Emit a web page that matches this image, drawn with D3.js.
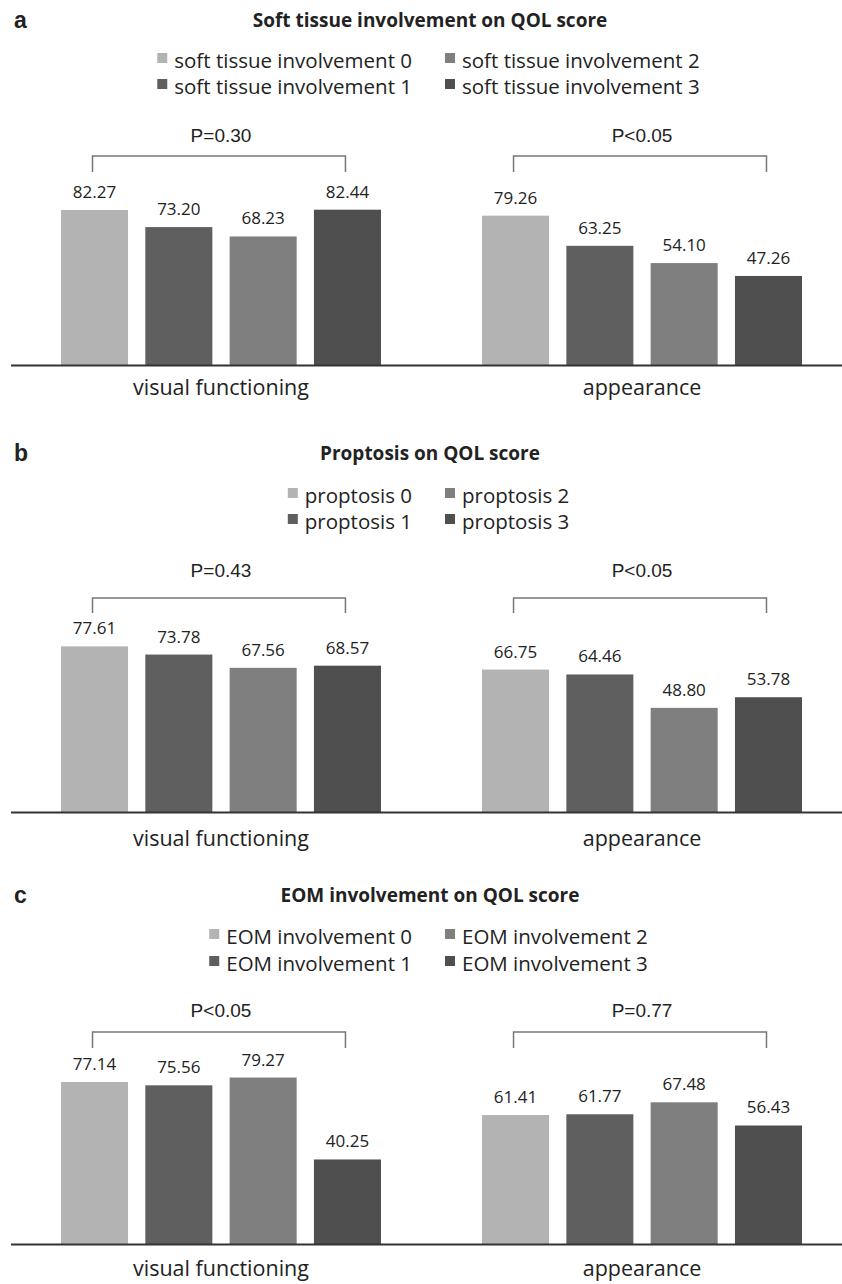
<!DOCTYPE html>
<html>
<head>
<meta charset="utf-8">
<script src="https://cdn.jsdelivr.net/npm/d3@7"></script>
<style>
  body { margin: 0; background: #fff; }
  text { fill: #222; }
</style>
</head>
<body>
<div id="chart"></div>
<script>
// groups on the x axis
const groups = ["visual functioning", "appearance"];

// panel a - soft tissue involvement
const softLabels = ["soft tissue involvement 0", "soft tissue involvement 1", "soft tissue involvement 2", "soft tissue involvement 3"];
const softVisual = [82.27, 73.20, 68.23, 82.44];
const softAppearance = [79.26, 63.25, 54.10, 47.26];
const softP = ["P=0.30", "P<0.05"];

// panel b - proptosis
const proptosisLabels = ["proptosis 0", "proptosis 1", "proptosis 2", "proptosis 3"];
const proptosisVisual = [77.61, 73.78, 67.56, 68.57];
const proptosisAppearance = [66.75, 64.46, 48.80, 53.78];
const proptosisP = ["P=0.43", "P<0.05"];

// panel c - EOM involvement
const eomLabels = ["EOM involvement 0", "EOM involvement 1", "EOM involvement 2", "EOM involvement 3"];
const eomVisual = [77.14, 75.56, 79.27, 40.25];
const eomAppearance = [61.41, 61.77, 67.48, 56.43];
const eomP = ["P<0.05", "P=0.77"];

const colors = ["#b3b3b3", "#5f5f5f", "#7f7f7f", "#4f4f4f"];

const width = 842, height = 1284;
const mainFont = "'Open Sans', 'Noto Sans', sans-serif";

const svg = d3.select("#chart").append("svg")
    .attr("width", width)
    .attr("height", height);

// outer scale for the two groups, inner scale for the four levels
const x0 = d3.scaleBand().domain(groups).range([61, 802]).paddingInner(0.24).paddingOuter(0);
const x1 = d3.scaleBand().domain(d3.range(4)).range([0, x0.bandwidth()]).paddingInner(0.205).paddingOuter(0);

const panels = [
    { letter: "a", title: "Soft tissue involvement on QOL score", labels: softLabels,
      values: [softVisual, softAppearance], p: softP,
      titleY: 20, leg: [61, 87], pY: 135, bTop: 156, bBot: 172, base: 365, k: 1.884, xlabY: 387 },
    { letter: "b", title: "Proptosis on QOL score", labels: proptosisLabels,
      values: [proptosisVisual, proptosisAppearance], p: proptosisP,
      titleY: 453, leg: [496, 522], pY: 570, bTop: 598, bBot: 613, base: 812, k: 2.134, xlabY: 838 },
    { letter: "c", title: "EOM involvement on QOL score", labels: eomLabels,
      values: [eomVisual, eomAppearance], p: eomP,
      titleY: 895, leg: [937, 964], pY: 1010, bTop: 1032, bBot: 1048, base: 1244, k: 2.10, xlabY: 1268 }
];

panels.forEach(function (pn) {
    const g = svg.append("g");

    const y = d3.scaleLinear()
        .domain([0, 100])
        .range([pn.base, pn.base - 100 * pn.k]);

    // panel letter
    g.append("text")
        .attr("x", 14)
        .attr("y", pn.titleY)
        .attr("dy", "0.35em")
        .style("font-family", "'Liberation Sans', Arial, sans-serif")
        .style("font-weight", "bold")
        .style("font-size", "23px")
        .text(pn.letter);

    // title
    g.append("text")
        .attr("x", 430)
        .attr("y", pn.titleY)
        .attr("dy", "0.35em")
        .attr("text-anchor", "middle")
        .style("font-family", mainFont)
        .style("font-weight", "bold")
        .style("font-size", "19px")
        .text(pn.title);

    // legend: two columns, levels 0/1 on the left, 2/3 on the right
    pn.labels.forEach(function (lab, i) {
        const col = Math.floor(i / 2), row = i % 2;
        const ly = pn.leg[row];
        const t = g.append("text")
            .attr("y", ly)
            .attr("dy", "0.35em")
            .style("font-family", mainFont)
            .style("font-size", "20.5px")
            .text(lab);
        let tx;
        if (col === 0) {
            tx = 412 - t.node().getComputedTextLength();
        } else {
            tx = 462;
        }
        t.attr("x", tx);
        g.append("rect")
            .attr("x", tx - 17)
            .attr("y", ly - 8)
            .attr("width", 10)
            .attr("height", 10)
            .attr("fill", colors[i]);
    });

    groups.forEach(function (grp, gi) {
        const vals = pn.values[gi];
        const gx = x0(grp);

        // bars
        g.selectAll(".bar-" + gi)
            .data(vals)
            .enter().append("rect")
            .attr("x", (d, i) => gx + x1(i))
            .attr("y", d => y(d))
            .attr("width", x1.bandwidth())
            .attr("height", d => y(0) - y(d))
            .attr("fill", (d, i) => colors[i]);

        // value labels
        g.selectAll(".val-" + gi)
            .data(vals)
            .enter().append("text")
            .attr("x", (d, i) => gx + x1(i) + x1.bandwidth() / 2)
            .attr("y", d => y(d) - 12)
            .attr("text-anchor", "middle")
            .style("font-family", mainFont)
            .style("font-size", "17px")
            .text(d => d.toFixed(2));

        // significance bracket
        const xa = gx + x1(0) + x1.bandwidth() / 2 - 2;
        const xb = gx + x1(3) + x1.bandwidth() / 2 - 2;
        g.append("path")
            .attr("d", `M${xa},${pn.bBot}V${pn.bTop}H${xb}V${pn.bBot}`)
            .attr("fill", "none")
            .attr("stroke", "#777")
            .attr("stroke-width", 1.5);

        g.append("text")
            .attr("x", (xa + xb) / 2 + 2)
            .attr("y", pn.pY)
            .attr("dy", "0.35em")
            .attr("text-anchor", "middle")
            .style("font-family", "'Liberation Sans', Arial, sans-serif")
            .style("font-size", "19px")
            .text(pn.p[gi]);

        // group label
        g.append("text")
            .attr("x", gx + x0.bandwidth() / 2)
            .attr("y", pn.xlabY)
            .attr("dy", "0.35em")
            .attr("text-anchor", "middle")
            .style("font-family", mainFont)
            .style("font-size", "21.5px")
            .text(grp);
    });

    // baseline
    g.append("line")
        .attr("x1", 11)
        .attr("x2", width)
        .attr("y1", y(0) + 0.5)
        .attr("y2", y(0) + 0.5)
        .attr("stroke", "#333")
        .attr("stroke-width", 2);
});
</script>
</body>
</html>
